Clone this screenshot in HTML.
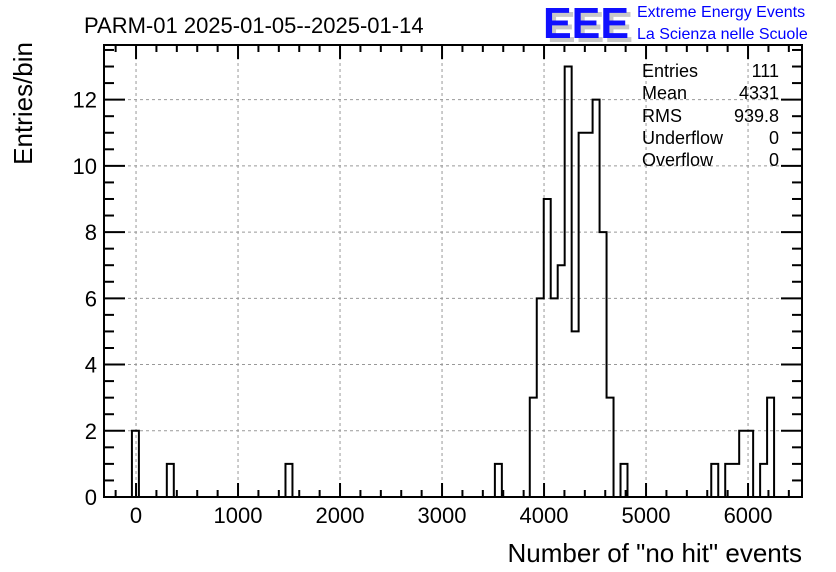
<!DOCTYPE html>
<html><head><meta charset="utf-8"><style>
body{margin:0;background:#fff;}
svg{display:block;font-family:"Liberation Sans",Arial,sans-serif;}
</style></head><body>
<svg id="chart" width="836" height="572" viewBox="0 0 836 572">
<rect width="836" height="572" fill="#fff"/>
<g id="grid"></g>
<g id="ticks"></g>
<path id="hist" fill="none" stroke="#000" stroke-width="2"/>
<rect x="104" y="45" width="698" height="452" fill="none" stroke="#000" stroke-width="2"/>
<text x="84" y="33" font-size="22">PARM-01 2025-01-05--2025-01-14</text>
<text transform="translate(32,42) rotate(-90)" text-anchor="end" font-size="26">Entries/bin</text>
<text x="802" y="562" text-anchor="end" font-size="26">Number of "no hit" events</text>
<g>
<text x="547" y="42" font-size="44" font-weight="bold" fill="#c8c8c8" textLength="86" lengthAdjust="spacingAndGlyphs">EEE</text>
<text x="543" y="38" font-size="44" font-weight="bold" fill="#1010ff" textLength="86" lengthAdjust="spacingAndGlyphs">EEE</text>
<text x="637" y="17" font-size="16" fill="#0000ff">Extreme Energy Events</text>
<text x="637" y="39" font-size="16" fill="#0000ff">La Scienza nelle Scuole</text>
</g>
<g font-size="18">
<text x="642" y="77">Entries</text><text x="779" y="77" text-anchor="end">111</text>
<text x="642" y="99">Mean</text><text x="779" y="99" text-anchor="end">4331</text>
<text x="642" y="122">RMS</text><text x="779" y="122" text-anchor="end">939.8</text>
<text x="642" y="144">Underflow</text><text x="779" y="144" text-anchor="end">0</text>
<text x="642" y="166">Overflow</text><text x="779" y="166" text-anchor="end">0</text>
</g>
</svg>
<script>
const binCount = 100;
const binStart = -314;
const binEnd = 6529;
const counts = [0,0,0,0,2,0,0,0,0,1, 0,0,0,0,0,0,0,0,0,0, 0,0,0,0,0,0,1,0,0,0, 0,0,0,0,0,0,0,0,0,0, 0,0,0,0,0,0,0,0,0,0, 0,0,0,0,0,0,1,0,0,0, 0,3,6,9,6,7,13,5,11,11, 12,8,3,0,1,0,0,0,0,0, 0,0,0,0,0,0,0,1,0,1, 1,2,2,0,1,3,0,0,0,0];
const xTickLabels = [0,1000,2000,3000,4000,5000,6000];
const yTickLabels = [0,2,4,6,8,10,12];
const yMax = 13.65;

const L=104,R=802,T=45,B=497;
const sx = v => L + (v-binStart)/(binEnd-binStart)*(R-L);
const sy = v => B - v/yMax*(B-T);
const NS="http://www.w3.org/2000/svg";
function mk(tag, attrs, parent){const e=document.createElementNS(NS,tag);for(const k in attrs)e.setAttribute(k,attrs[k]);parent.appendChild(e);return e;}
const grid=document.getElementById('grid'), ticks=document.getElementById('ticks'), svg=document.getElementById('chart');
const bw=(binEnd-binStart)/binCount;
let d="M"+sx(binStart)+","+sy(0);
for(let i=0;i<binCount;i++){const x0=sx(binStart+i*bw),x1=sx(binStart+(i+1)*bw),y=sy(counts[i]);d+=" L"+x0+","+y+" L"+x1+","+y;}
d+=" L"+sx(binEnd)+","+sy(0);
document.getElementById('hist').setAttribute('d',d);
xTickLabels.forEach(v=>{
  const x=sx(v);
  const g=mk('line',{x1:x,x2:x,y1:T,y2:B,stroke:'#999','stroke-dasharray':'3,3','stroke-width':1},grid);
  
  
  const t=mk('text',{x:x,y:523,'text-anchor':'middle','font-size':22},svg);
  t.textContent=v;
  
  
});
for(let v=-200;v<=6400;v+=200){
  const x=sx(v), major=v%1000===0, len=major?14:7;
  mk('line',{x1:x,x2:x,y1:B,y2:B-len,stroke:'#000','stroke-width':2},ticks);
  mk('line',{x1:x,x2:x,y1:T,y2:T+len,stroke:'#000','stroke-width':2},ticks);
}
yTickLabels.forEach(v=>{
  const y=sy(v);
  if(v>0){const g=mk('line',{x1:L,x2:R,y1:y,y2:y,stroke:'#999','stroke-dasharray':'3,3','stroke-width':1},grid);
  
  }
  const t=mk('text',{x:97,y:y+8,'text-anchor':'end','font-size':22},svg);
  t.textContent=v;
  
  
});
for(let v=0;v<=13.5;v+=0.5){
  const y=sy(v), len=(v%2===0)?21:10;
  mk('line',{x1:L,x2:L+len,y1:y,y2:y,stroke:'#000','stroke-width':2},ticks);
  mk('line',{x1:R,x2:R-len,y1:y,y2:y,stroke:'#000','stroke-width':2},ticks);
}
</script>
</body></html>
